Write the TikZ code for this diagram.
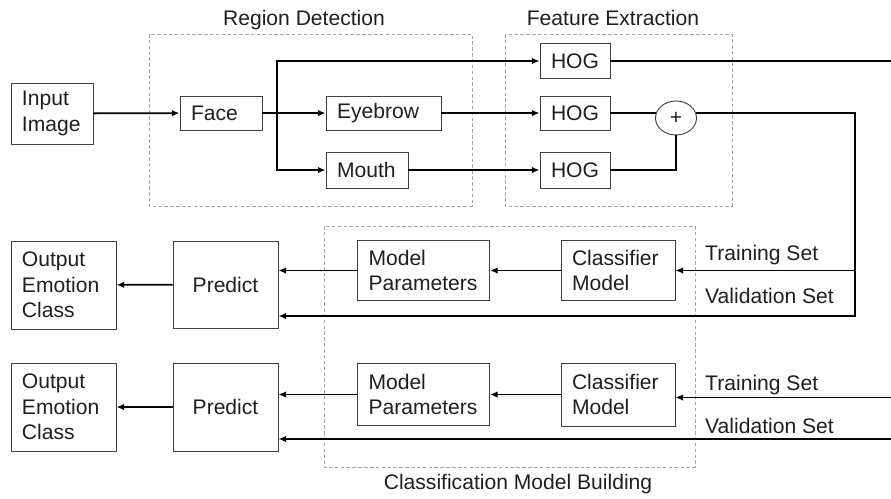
\documentclass[tikz,border=0pt]{standalone}
\usepackage{fontspec}
\setmainfont{Liberation Sans}
\usetikzlibrary{arrows.meta,shapes.geometric}

\begin{document}
\begin{tikzpicture}[x=0.03cm, y=-0.03cm, line join=miter,
    font=\fontsize{18}{21.7}\selectfont, text=black!88,
    blk/.style={draw=black!75, line width=0.8pt, inner xsep=0.33cm, inner ysep=0pt, align=left},
    link/.style={line width=1.5pt},
    arr/.style={link, -{Latex[length=6.5pt,width=5.5pt]}},
    frame/.style={draw=black!35, line width=0.7pt, dash pattern=on 3pt off 2pt},
    tag/.style={anchor=base west, inner sep=0pt}]
    \useasboundingbox (0,0) rectangle (891,498);

    % --- 1. Dashed stage frames ---
    \draw[frame] (149,34) rectangle (472,206);
    \draw[frame] (505,34) rectangle (732,206);
    \draw[frame] (324,226) rectangle (695,467);
    \node[anchor=base] (tdetect) at (304,25) {Region Detection};
    \node[anchor=base] (tfeature) at (613,25) {Feature Extraction};
    \node[anchor=base] (tbuild) at (518,489) {Classification Model Building};

    % --- 2. Region detection ---
    \node[blk, text width=1.8cm, minimum height=1.83cm] (input) at (52,113.5) {Input\\Image};
    \node[blk, text width=1.8cm, minimum height=1.02cm] (face) at (221,113) {Face};
    \node[blk, text width=2.79cm, minimum height=1.02cm] (eyebrow) at (383.5,113) {Eyebrow};
    \node[blk, text width=1.8cm, minimum height=1.08cm] (mouth) at (367,170) {Mouth};

    % --- 3. Feature extraction ---
    \node[blk, text width=1.44cm, minimum height=1.05cm, align=center] (hog1) at (575,61) {HOG};
    \node[blk, text width=1.44cm, minimum height=1.02cm, align=center] (hog2) at (575,113) {HOG};
    \node[blk, text width=1.44cm, minimum height=1.08cm, align=center] (hog3) at (575,170) {HOG};
    \node[ellipse, draw=black!75, line width=0.8pt, minimum width=1.23cm, minimum height=1.02cm, inner sep=0pt] (plus) at (676,118) {+};

    % --- 4. First classifier row ---
    \node[blk, text width=2.49cm, minimum height=2.64cm] (out1) at (63.5,285) {Output\\Emotion\\Class};
    \node[blk, text width=2.49cm, minimum height=2.61cm, align=center] (pred1) at (225.5,284.5) {Predict};
    \node[blk, text width=3.3cm, minimum height=1.8cm] (param1) at (423.5,270.5) {Model\\Parameters};
    \node[blk, text width=2.76cm, minimum height=1.8cm] (clf1) at (618,270.5) {Classifier\\Model};
    \node[tag] (train1lbl) at (705,260) {Training Set};
    \node[tag] (valid1lbl) at (705,303) {Validation Set};

    % --- 5. Second classifier row ---
    \node[blk, text width=2.49cm, minimum height=2.64cm] (out2) at (63.5,407) {Output\\Emotion\\Class};
    \node[blk, text width=2.49cm, minimum height=2.64cm, align=center] (pred2) at (225.5,407) {Predict};
    \node[blk, text width=3.3cm, minimum height=1.86cm] (param2) at (423.5,394.5) {Model\\Parameters};
    \node[blk, text width=2.76cm, minimum height=1.89cm] (clf2) at (618,394.5) {Classifier\\Model};
    \node[tag] (train2lbl) at (705,390) {Training Set};
    \node[tag] (valid2lbl) at (705,433) {Validation Set};

    % --- 6. Connectors ---
    \coordinate (split) at (277,113);
    \coordinate (hogout) at (891,61);
    \coordinate (drop) at (855,316);
    \coordinate (train1) at (855,270.5);
    \coordinate (train2) at (891,397.5);
    \coordinate (valid2) at (891,439);

    \draw[arr] (input) -- (face);
    \draw[arr] (face) -- (eyebrow);
    \draw[arr] (split) |- (hog1);
    \draw[arr] (split) |- (mouth);
    \draw[arr] (eyebrow) -- (hog2);
    \draw[arr] (mouth) -- (hog3);
    \draw[link] (hog1) -- (hogout);
    \draw[link] (hog2.east) -- (hog2.east -| plus.166);
    \draw[link] (hog3.east) -| (plus.south);
    \draw[arr] (plus.14) -| (drop) -- (drop -| pred1.east);
    \draw[arr] (train1) -- (clf1);
    \draw[arr] (clf1) -- (param1);
    \draw[arr] (param1.west) -- (param1.west -| pred1.east);
    \draw[arr] (pred1) -- (out1);

    \draw[arr] (train2) -- (train2 -| clf2.east);
    \draw[arr] (valid2) -- (valid2 -| pred2.east);
    \draw[arr] (clf2) -- (param2);
    \draw[arr] (param2.west) -- (param2.west -| pred2.east);
    \draw[arr] (pred2) -- (out2);
\end{tikzpicture}
\end{document}
